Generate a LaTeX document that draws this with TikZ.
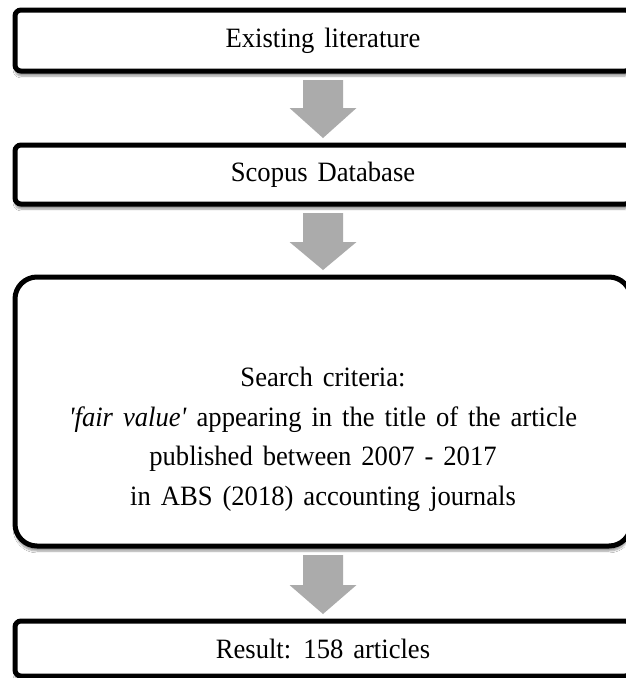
\documentclass[tikz,border=0pt]{standalone}
\usepackage{fontspec}
\setmainfont[WordSpace=1.5,FakeStretch=0.95,Ligatures=TeXOff]{Liberation Serif}
\usetikzlibrary{calc,shadows.blur}
\tikzset{
  flowbox/.style={draw=black, line width=5pt, fill=white, rounded corners=6pt,
    minimum width=616pt, inner sep=0pt, align=center,
    font=\fontsize{28}{39.5}\selectfont,
    blur shadow={shadow xshift=0pt, shadow yshift=-5pt, shadow blur steps=6, shadow opacity=40}},
  bigbox/.style={flowbox, rounded corners=22pt},
  arrowfill/.style={fill=black!33, draw=none}
}
\newcommand\blockarrow[3]{% from node #1 to node #2, head height #3
  \fill[arrowfill]
    ($(#1.south)+(-20,6.5)$) -- ($(#1.south)+(20,6.5)$)
    -- ($(#2.north)+(20,-4.5-#3)$) -- ($(#2.north)+(33.5,-4.5-#3)$)
    -- ($(#2.north)+(0,-4.5)$)
    -- ($(#2.north)+(-33.5,-4.5-#3)$) -- ($(#2.north)+(-20,-4.5-#3)$) -- cycle;}
\begin{document}
\begin{tikzpicture}[x=1pt,y=-1pt]
\useasboundingbox[fill=white] (0,0) rectangle (625,678);
\node[flowbox, minimum height=61pt] (b1) at (323,40.5) {Existing literature};
\node[flowbox, minimum height=59pt] (b2) at (323,174.5) {Scopus Database};
\node[bigbox, minimum height=269pt] (b3) at (323,411.5) {\mbox{}\\[36pt]Search criteria:\\
  \textit{'fair value'} appearing in the title of the article\\
  published between 2007 - 2017\\
  in ABS (2018) accounting journals};
\node[flowbox, minimum height=55pt] (b4) at (323,648.5) {Result: 158 articles};
\blockarrow{b1}{b2}{30}
\blockarrow{b2}{b3}{28}
\blockarrow{b3}{b4}{29}
\end{tikzpicture}
\end{document}
